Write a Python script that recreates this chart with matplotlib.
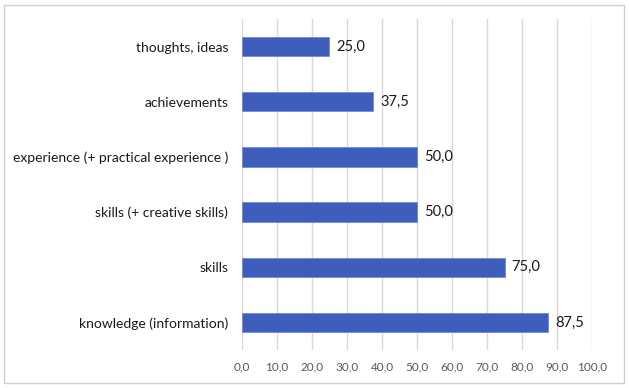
import matplotlib.pyplot as plt
from matplotlib.patches import Rectangle

categories = ["knowledge (information)", "skills", "skills (+ creative skills)",
              "experience (+ practical experience )", "achievements", "thoughts, ideas"]
values = [87.5, 75.0, 50.0, 50.0, 37.5, 25.0]
ticks = [0, 10, 20, 30, 40, 50, 60, 70, 80, 90, 100]

plt.rcParams['font.family'] = ['Lato', 'DejaVu Sans']

fig = plt.figure(figsize=(6.29, 3.88), dpi=100)
ax = fig.add_axes([0.3847, 0.098, 0.9412 - 0.3847, 0.951 - 0.098])

ax.barh(range(len(categories)), values, height=0.35, color='#3F5DBA',
        edgecolor='#6F8AD8', linewidth=0.6, zorder=3)
for i, v in enumerate(values):
    ax.text(v + 2.0, i, f"{v:.1f}".replace('.', ','), va='center', ha='left',
            fontsize=10.5, color='#1a1a1a')

ax.set_xlim(0, 100)
ax.set_ylim(-0.5, len(categories) - 0.5)
ax.set_xticks(ticks)
ax.set_xticklabels([f"{t:.1f}".replace('.', ',') for t in ticks], fontsize=8.5, color='#595959')
ax.set_yticks(range(len(categories)))
ax.set_yticklabels(categories, fontsize=10, color='#1a1a1a')
ax.tick_params(axis='both', length=0)
ax.tick_params(axis='y', pad=10)
ax.tick_params(axis='x', pad=8)
ax.grid(axis='x', color='#D9D9D9', linewidth=1, zorder=0)
for s in ax.spines.values():
    s.set_visible(False)

fig.patches.append(Rectangle((4 / 629, 5 / 388), 620 / 629, 378 / 388,
                             transform=fig.transFigure, fill=False,
                             edgecolor='#D0D0D0', linewidth=1))

fig.savefig('out.png', dpi=100)
